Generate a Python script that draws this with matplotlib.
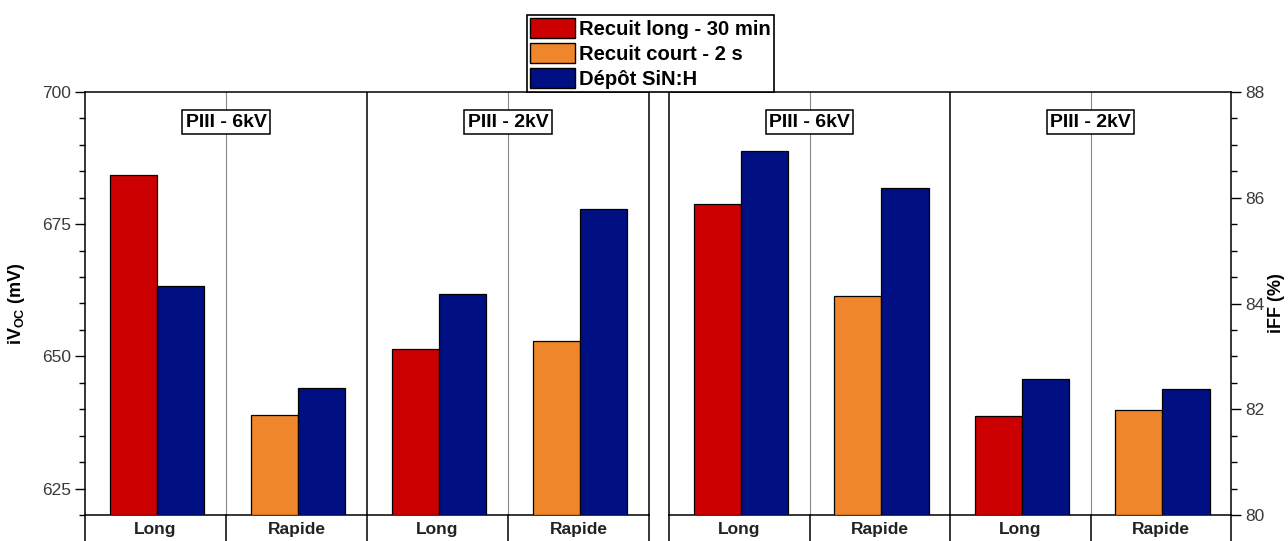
import matplotlib
matplotlib.use("Agg")
import matplotlib.pyplot as plt
from matplotlib.patches import Patch
from matplotlib.ticker import MultipleLocator
import numpy as np

plt.rcParams["font.family"] = ["Liberation Sans", "DejaVu Sans"]

categories = ["Long", "Rapide", "Long", "Rapide"]
groups = ["PIII - 6kV", "PIII - 2kV"]
series = ["Recuit long - 30 min", "Recuit court - 2 s", "Dépôt SiN:H"]
colors = ["#CC0000", "#F0862B", "#000F82"]

# annealing value per category (Long -> long anneal, Rapide -> short anneal)
ivoc_anneal = [684.3, 639.0, 651.4, 653.0]
ivoc_sin = [663.3, 644.1, 661.8, 677.9]
iff_anneal = [85.88, 84.15, 81.88, 81.99]
iff_sin = [86.88, 86.18, 82.58, 82.38]

W, H = 1288, 541
fig = plt.figure(figsize=(W / 100, H / 100), dpi=100)

ax_l = fig.add_axes([85 / W, 1 - 515 / H, 564 / W, 423 / H])
ax_r = fig.add_axes([669 / W, 1 - 515 / H, 562 / W, 423 / H])

x = np.arange(len(categories))
bw = 0.335
off = 0.012


def draw(ax, anneal, sin, ylim, major, minor, side):
    for i, cat in enumerate(categories):
        col = colors[0] if cat == "Long" else colors[1]
        ax.bar(x[i] + off - bw / 2, anneal[i] - ylim[0], bw, bottom=ylim[0],
               color=col, edgecolor="black", lw=0.9, zorder=3)
        ax.bar(x[i] + off + bw / 2, sin[i] - ylim[0], bw, bottom=ylim[0],
               color=colors[2], edgecolor="black", lw=0.9, zorder=3)
    ax.set_xlim(-0.5, 3.5)
    ax.set_ylim(*ylim)
    ax.set_xticks([])
    ax.yaxis.set_major_locator(MultipleLocator(major))
    ax.yaxis.set_minor_locator(MultipleLocator(minor))
    if side == "right":
        ax.yaxis.tick_right()
        ax.yaxis.set_label_position("right")
    ax.tick_params(axis="y", which="major", direction="out", length=7,
                   width=1, labelsize=12.5, labelcolor="#3a3a3a", pad=3)
    ax.tick_params(axis="y", which="minor", direction="out", length=4,
                   width=1)
    for s in ax.spines.values():
        s.set_linewidth(1.1)
    # separators
    for xs in (0.5, 2.5):
        ax.axvline(xs, color="#888888", lw=0.8, zorder=1)
    ax.axvline(1.5, color="black", lw=1.1, zorder=1)
    # table-like category row under the axes
    for xs in (-0.5, 0.5, 1.5, 2.5, 3.5):
        ax.plot([xs, xs], [0, -0.08], color="black", lw=1.1,
                transform=ax.get_xaxis_transform(), clip_on=False)
    for i, cat in enumerate(categories):
        ax.text(x[i], -0.034, cat, transform=ax.get_xaxis_transform(),
                ha="center", va="center", fontsize=12.5, fontweight="bold",
                color="#222222")
    for j, g in enumerate(groups):
        ax.text(0.5 + 2 * j, 0.929, g, transform=ax.get_xaxis_transform(),
                ha="center", va="center", fontsize=14, fontweight="bold",
                zorder=5,
                bbox=dict(boxstyle="square,pad=0.17", fc="white",
                          ec="black", lw=1.1))


draw(ax_l, ivoc_anneal, ivoc_sin, (620, 700), 25, 5, "left")
draw(ax_r, iff_anneal, iff_sin, (80, 88), 2, 0.5, "right")

ax_l.set_ylabel(r"iV$_{\mathregular{OC}}$ (mV)", fontsize=13,
                fontweight="bold", labelpad=11)
ax_r.set_ylabel("iFF (%)", fontsize=13, fontweight="bold", labelpad=3,
                rotation=90)

handles = [Patch(facecolor=c, edgecolor="black", lw=1) for c in colors]
leg = fig.legend(handles, series, loc="upper left",
                 bbox_to_anchor=(527 / W, 1 - 15 / H), borderaxespad=0,
                 prop={"size": 14.6, "weight": "bold"}, frameon=True,
                 fancybox=False, edgecolor="black", handlelength=2.2,
                 handleheight=1.15, handletextpad=0.2, labelspacing=0.2,
                 borderpad=0.15, framealpha=1)
leg.get_frame().set_linewidth(1.2)
leg.set_zorder(10)

fig.savefig("out.png", dpi=100)
